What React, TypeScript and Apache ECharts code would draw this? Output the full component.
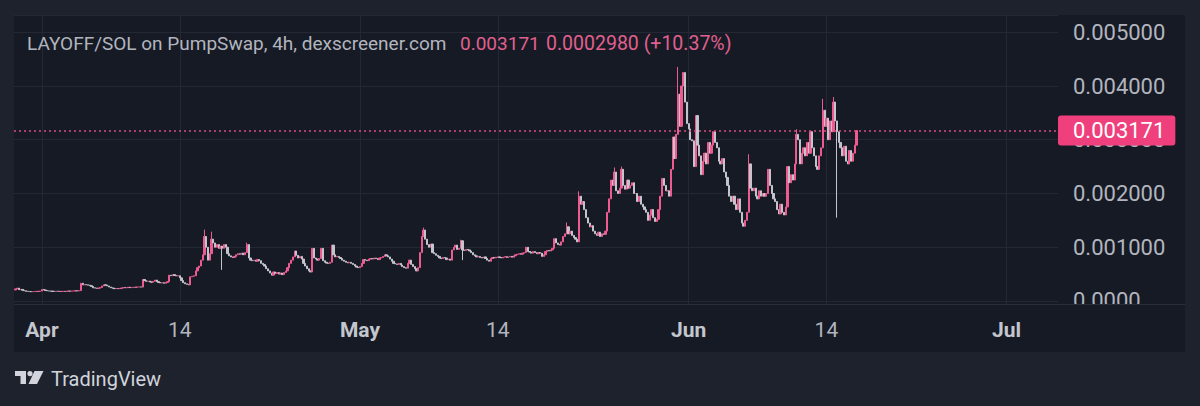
import React, { useEffect, useRef } from 'react';
import * as echarts from 'echarts';

// ---------- data (values in 1e-6 SOL) ----------
const startTime = Date.UTC(2025, 2, 29, 12); // first 4h candle
const candleMs = 4 * 3600 * 1000;
const firstOpen = 205;

const marCloses = [225, 240, 210, 215, 200, 190, 180, 178, 175, 172, 175, 178, 176, 180, 185];

const aprCloses = [
  215, 205, 195, 188, 185, 182,
  180, 178, 182, 180, 176, 178,
  180, 178, 182, 185, 183, 186,
  188, 190, 186, 192, 330, 300,
  305, 300, 295, 285, 270, 245,
  240, 235, 238, 250, 280, 300,
  295, 280, 260, 245, 235, 230,
  232, 228, 235, 240, 250, 245,
  250, 255, 248, 252, 258, 255,
  260, 262, 258, 400, 380, 365,
  370, 355, 350, 365, 390, 360,
  345, 335, 340, 330, 345, 360,
  480, 470, 490, 475, 465, 470,
  430, 380, 340, 320, 310, 300,
  450, 460, 470, 560, 620, 650,
  760, 860, 1200, 1000, 760, 880,
  1150, 1080, 1000, 1050, 980, 1020,
  980, 1050, 1000, 880, 840, 820,
  810, 830, 860, 880, 870, 890,
  860, 900, 1050, 800, 760, 750,
  760, 740, 770, 750, 700, 680,
  650, 600, 560, 520, 480, 540,
  510, 530, 500, 520, 490, 530,
  560, 620, 700, 760, 820, 930,
  850, 800, 830, 780, 700, 650,
  600, 560, 540, 980, 800, 780,
  760, 790, 980, 750, 720, 705,
  700, 720, 1040, 860, 820, 830,
  810, 790, 760, 740, 720, 710,
  720, 700, 680, 650, 630, 620,
];

const mayCloses = [
  640, 700, 770, 760, 750, 780,
  790, 780, 800, 790, 770, 800,
  810, 830, 860, 840, 820, 780,
  740, 700, 690, 680, 700, 670,
  640, 620, 610, 700, 760, 680,
  640, 600, 560, 620, 900, 1200,
  1320, 1150, 1050, 1000, 1060, 900,
  880, 850, 830, 800, 790, 810,
  800, 770, 780, 760, 950, 1000,
  1040, 960, 980, 1120, 950, 940,
  960, 950, 930, 900, 860, 840,
  820, 830, 810, 800, 820, 790,
  760, 740, 790, 810, 800, 815,
  820, 810, 800, 815, 825, 810,
  820, 830, 815, 840, 860, 870,
  880, 870, 890, 900, 1000, 920,
  910, 890, 920, 900, 880, 900,
  890, 830, 860, 920, 940, 930,
  950, 980, 1160, 1080, 1050, 1040,
  1100, 1200, 1250, 1380, 1250, 1300,
  1220, 1180, 1150, 1100, 1950, 1800,
  1850, 1700, 1550, 1450, 1380, 1400,
  1300, 1250, 1220, 1280, 1200, 1250,
  1240, 1300, 1650, 1900, 2250, 2150,
  2400, 2050, 2000, 2100, 2450, 2150,
  2080, 2250, 2100, 2150, 2200, 2000,
  2000, 1850, 1950, 1800, 1750, 1700,
  1650, 1500, 1600, 1700, 1550, 1480,
  1520, 1700, 1950, 2280, 2150, 2050,
  2050, 1950, 2450, 3050, 2650, 3100,
  3850, 3250, 4000, 4250, 3700, 3300,
];

const junCloses = [
  3200, 3000, 2980, 2500, 3450, 2900,
  2700, 2350, 2600, 2750, 2550, 2950,
  2750, 2900, 3150, 2950, 2850, 2600,
  2550, 2650, 2400, 2300, 2150, 1950,
  1850, 1950, 1800, 1700, 1900, 1650,
  1450, 1390, 1500, 1650, 2550, 2100,
  2050, 2100, 1950, 1900, 2050, 1950,
  2000, 1950, 2000, 2450, 2150, 2000,
  1900, 1850, 1700, 1620, 1800, 1650,
  1600, 1750, 2500, 2200, 2350, 2250,
  2550, 3100, 3000, 2550, 2750, 2850,
  2700, 2950, 2750, 3150, 2850, 2700,
  2500, 2450, 2700, 2850, 3550, 3250,
  3400, 3000, 3350, 3150, 3700, 3350,
  3150, 2950, 2850, 2700, 2880, 2600,
  2550, 2800, 2600, 2750, 2900, 3171,
];

// notable wicks: month (0-based), day, 4h slot, high, low
const wickMonths = [3, 3, 3, 3, 4, 4, 4, 4, 4, 4, 4, 4, 4, 5, 5, 5, 5, 5];
const wickDays = [16, 17, 18, 20, 7, 10, 10, 20, 21, 25, 25, 31, 31, 6, 11, 13, 14, 15];
const wickSlots = [2, 0, 0, 2, 0, 3, 4, 3, 4, 0, 4, 0, 3, 4, 1, 4, 4, 0];
const wickHighs = [1327, 1290, null, 1085, 1365, 1140, null, 1460, 2040, 2485, 2500, 4355, 4260, 2730, 3195, 3760, 3795, null];
const wickLows = [null, null, 580, null, null, null, 760, null, null, null, null, null, null, null, null, null, null, 1550];

const xTickDates = [
  Date.UTC(2025, 3, 1), Date.UTC(2025, 3, 14), Date.UTC(2025, 4, 1), Date.UTC(2025, 4, 14),
  Date.UTC(2025, 5, 1), Date.UTC(2025, 5, 14), Date.UTC(2025, 6, 1),
];
const monthNames = ['Jan', 'Feb', 'Mar', 'Apr', 'May', 'Jun', 'Jul', 'Aug', 'Sep', 'Oct', 'Nov', 'Dec'];

const titleText = 'LAYOFF/SOL on PumpSwap, 4h, dexscreener.com';
const changeText = '0.0002980 (+10.37%)';

// ---------- styles ----------
const FONT = 'Roboto, "Noto Sans", "DejaVu Sans", sans-serif';
const OUTER = '#1e222d';
const PANEL = '#161a25';
const GRID = '#242834';
const PINK = '#ee5b91';
const GRAY = '#c4c4cc';
const LABEL = '#b2b5be';
const HEAD_PINK = '#e0608e';

let logoRegistered = false;
function registerLogo() {
  if (logoRegistered) return;
  logoRegistered = true;
  const d =
    'M0 0H11V13H5.5V5H0Z ' +
    'M12.4 2.6A2.6 2.6 0 1 0 17.6 2.6A2.6 2.6 0 1 0 12.4 2.6Z ' +
    'M19.5 0H28.5L22 13H13.5Z';
  echarts.graphic.registerShape('tvLogo', echarts.graphic.extendPath(d, {}) as any);
}

function buildCandles() {
  const closes = [...marCloses, ...aprCloses, ...mayCloses, ...junCloses];
  const rows: number[][] = [];
  for (let i = 0; i < closes.length; i++) {
    const o = i === 0 ? firstOpen : closes[i - 1];
    const c = closes[i];
    rows.push([startTime + i * candleMs, o, c, Math.min(o, c), Math.max(o, c)]);
  }
  for (let k = 0; k < wickDays.length; k++) {
    const t = Date.UTC(2025, wickMonths[k], wickDays[k], wickSlots[k] * 4);
    const idx = Math.round((t - startTime) / candleMs);
    const r = rows[idx];
    if (!r) continue;
    if (wickHighs[k] != null) r[4] = Math.max(r[4], wickHighs[k] as number);
    if (wickLows[k] != null) r[3] = Math.min(r[3], wickLows[k] as number);
  }
  return { rows, last: closes[closes.length - 1] };
}

export default function App() {
  const ref = useRef<HTMLDivElement>(null);
  useEffect(() => {
    document.body.style.margin = '0';
    registerLogo();
    const { rows, last } = buildCandles();
    const lastText = (last / 1e6).toFixed(6);
    const chart = echarts.init(ref.current!, undefined, { renderer: 'svg' });
    const option: any = {
      animation: false,
      backgroundColor: PANEL,
      grid: { left: 14, right: 142, top: 15, bottom: 102 },
      xAxis: {
        type: 'value',
        min: Date.UTC(2025, 2, 29, 8, 40),
        max: Date.UTC(2025, 6, 5, 20, 20),
        axisLine: { show: true, onZero: false, lineStyle: { color: '#2a2e39', width: 1 } },
        axisTick: {
          show: true,
          inside: true,
          length: 289,
          customValues: xTickDates,
          lineStyle: { color: GRID, width: 1 },
        },
        splitLine: { show: false },
        axisLabel: {
          customValues: xTickDates,
          margin: 15,
          color: LABEL,
          fontSize: 21,
          fontFamily: FONT,
          formatter: (v: number) => {
            const dt = new Date(v);
            return dt.getUTCDate() === 1
              ? '{m|' + monthNames[dt.getUTCMonth()] + '}'
              : '{d|' + dt.getUTCDate() + '}';
          },
          rich: {
            m: { fontWeight: 'bold', fontSize: 21, color: '#c3c6cd', fontFamily: FONT },
            d: { fontSize: 21, color: LABEL, fontFamily: FONT },
          },
        },
      },
      yAxis: {
        type: 'value',
        position: 'right',
        min: -56,
        max: 5321,
        splitNumber: 5,
        axisLine: { show: false },
        axisTick: { show: false },
        splitLine: { show: true, lineStyle: { color: GRID, width: 1 } },
        axisLabel: {
          margin: 15,
          color: LABEL,
          fontSize: 22,
          fontFamily: FONT,
          showMinLabel: false,
          showMaxLabel: false,
          formatter: (v: number) => (v === 0 ? '0.0000' : (v / 1e6).toFixed(6)),
        },
      },
      series: [
        {
          type: 'candlestick',
          clip: false,
          barWidth: 1.7,
          encode: { x: 0, y: [1, 2, 3, 4] },
          data: rows,
          itemStyle: {
            color: PINK,
            color0: GRAY,
            borderColor: PINK,
            borderColor0: GRAY,
            borderWidth: 1,
          },
          emphasis: { disabled: true },
          markLine: {
            silent: true,
            symbol: ['none', 'none'],
            animation: false,
            data: [{ yAxis: last }],
            lineStyle: { color: '#d94d80', type: [2, 3], width: 1.5 },
            emphasis: { disabled: true },
            label: {
              show: true,
              position: 'end',
              distance: 0,
              formatter: () => lastText,
              color: '#ffffff',
              backgroundColor: '#ef3f7c',
              padding: [5, 10, 3, 15],
              borderRadius: 3,
              fontSize: 22,
              fontFamily: FONT,
            },
          },
        },
      ],
      graphic: [
        { type: 'rect', z: 100, shape: { x: 0, y: 0, width: 1200, height: 15 }, style: { fill: OUTER } },
        { type: 'rect', z: 100, shape: { x: 0, y: 15, width: 14, height: 337 }, style: { fill: OUTER } },
        { type: 'rect', z: 100, shape: { x: 1185, y: 15, width: 15, height: 337 }, style: { fill: OUTER } },
        { type: 'rect', z: 100, shape: { x: 0, y: 352, width: 1200, height: 54 }, style: { fill: OUTER } },
        { type: 'rect', z: 100, shape: { x: 1058, y: 305, width: 127, height: 47 }, style: { fill: PANEL } },
        { type: 'line', z: 100, shape: { x1: 1058, y1: 304.5, x2: 1185, y2: 304.5 }, style: { stroke: '#2a2e39', lineWidth: 1 } },
        {
          type: 'text', z: 101, x: 27, y: 43,
          style: { text: titleText, fill: LABEL, fontSize: 19, fontFamily: FONT, verticalAlign: 'middle' },
        },
        {
          type: 'text', z: 101, x: 460, y: 43,
          style: { text: lastText, fill: HEAD_PINK, fontSize: 19, fontFamily: FONT, verticalAlign: 'middle' },
        },
        {
          type: 'text', z: 101, x: 546, y: 43,
          style: { text: changeText, fill: HEAD_PINK, fontSize: 19.5, fontFamily: FONT, verticalAlign: 'middle' },
        },
        { type: 'tvLogo', z: 101, x: 15, y: 371, scaleX: 1, scaleY: 1, style: { fill: '#d1d4dc' } },
        {
          type: 'text', z: 101, x: 51, y: 379,
          style: { text: 'TradingView', fill: '#d1d4dc', fontSize: 20, fontFamily: FONT, verticalAlign: 'middle' },
        },
      ],
    };
    chart.setOption(option);
    return () => chart.dispose();
  }, []);
  return <div ref={ref} style={{ width: 1200, height: 406 }} />;
}
